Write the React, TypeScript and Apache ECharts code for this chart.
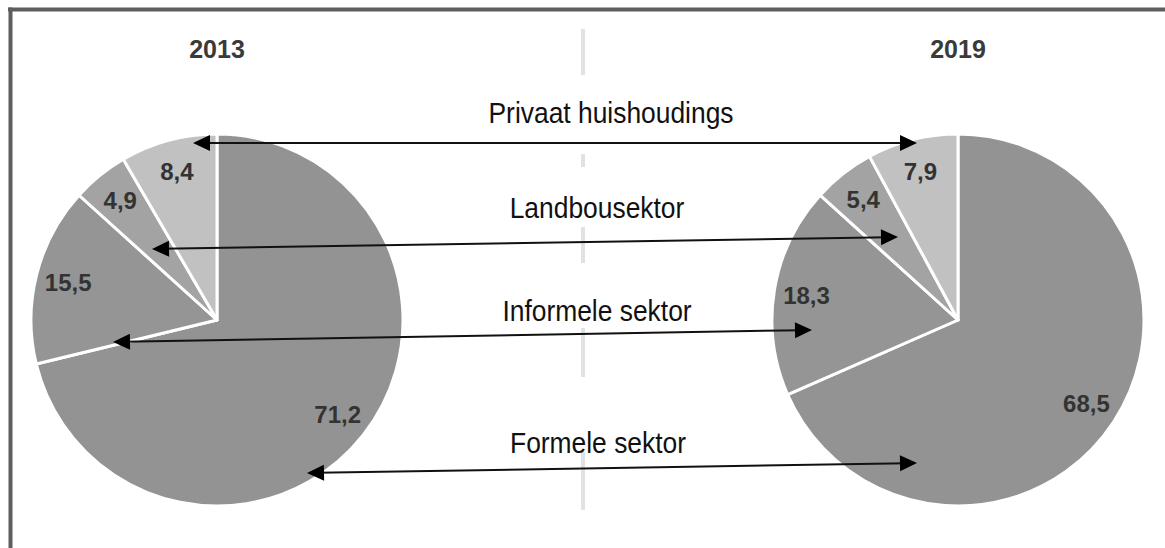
import React, { useEffect, useRef } from 'react';
import * as echarts from 'echarts';

const years = ['2013', '2019'];
const sectors = ['Formele sektor', 'Informele sektor', 'Landbousektor', 'Privaat huishoudings'];
const values2013 = [71.2, 15.5, 4.9, 8.4];
const values2019 = [68.5, 18.3, 5.4, 7.9];
const sectorColors = ['#939393', '#959595', '#a3a3a3', '#c1c1c1'];
const arrowLabels = ['Privaat huishoudings', 'Landbousektor', 'Informele sektor', 'Formele sektor'];

const FONT = "'Liberation Sans', Arial, sans-serif";

function doubleArrow(x1: number, y1: number, x2: number, y2: number) {
  const dx = x2 - x1;
  const dy = y2 - y1;
  const len = Math.sqrt(dx * dx + dy * dy);
  const ux = dx / len;
  const uy = dy / len;
  const px = -uy;
  const py = ux;
  const L = 17;
  const W = 8;
  const head = (tx: number, ty: number, dir: number) => {
    const bx = tx - dir * ux * L;
    const by = ty - dir * uy * L;
    return {
      type: 'polygon',
      z: 20,
      shape: { points: [[tx, ty], [bx + px * W, by + py * W], [bx - px * W, by - py * W]] },
      style: { fill: '#000' },
    };
  };
  return [
    {
      type: 'line',
      z: 20,
      shape: { x1: x1 + ux * 10, y1: y1 + uy * 10, x2: x2 - ux * 10, y2: y2 - uy * 10 },
      style: { stroke: '#111', lineWidth: 2 },
    },
    head(x1, y1, -1),
    head(x2, y2, 1),
  ];
}

export default function App() {
  const ref = useRef<HTMLDivElement>(null);
  useEffect(() => {
    if (!ref.current) return;
    const chart = echarts.init(ref.current, undefined, { renderer: 'svg' });
    const fmt = (p: any) => String(p.value).replace('.', ',');
    const makePie = (name: string, values: number[], center: number[]) => [
      {
        type: 'pie',
        name,
        center,
        radius: [0, 186],
        startAngle: 90,
        clockwise: true,
        silent: true,
        z: 2,
        emphasis: { disabled: true },
        itemStyle: { borderColor: '#ffffff', borderWidth: 3 },
        label: { show: false },
        labelLine: { show: false },
        data: sectors.map((s, i) => ({ name: s, value: values[i], itemStyle: { color: sectorColors[i] } })),
      },
      {
        type: 'pie',
        name: name + ' labels',
        center,
        radius: [115, 186],
        startAngle: 90,
        clockwise: true,
        silent: true,
        z: 3,
        emphasis: { disabled: true },
        itemStyle: { color: 'rgba(0,0,0,0)', borderWidth: 0 },
        label: {
          show: true,
          position: 'inside',
          formatter: fmt,
          fontFamily: FONT,
          fontWeight: 'bold',
          fontSize: 24,
          color: '#333333',
        },
        labelLine: { show: false },
        data: sectors.map((s, i) => ({ name: s, value: values[i] })),
      },
    ];

    const arrows: number[][] = [
      [193, 143, 917, 143],
      [152, 249, 898, 237],
      [113, 342, 812, 330],
      [307, 473, 917, 463],
    ];
    const labelPos: number[][] = [
      [611, 112],
      [597, 207],
      [597, 310],
      [598, 442],
    ];
    const sepSegments: number[][] = [
      [29, 75],
      [154, 167],
      [227, 263],
      [328, 377],
      [452, 510],
    ];

    const graphic: any[] = [];
    graphic.push({ type: 'line', z: 20, shape: { x1: 8, y1: 9.5, x2: 1165, y2: 9.5 }, style: { stroke: '#5e5e5e', lineWidth: 4 } });
    graphic.push({ type: 'line', z: 20, shape: { x1: 10.5, y1: 7.5, x2: 10.5, y2: 548 }, style: { stroke: '#5e5e5e', lineWidth: 4 } });
    sepSegments.forEach((s) => {
      graphic.push({ type: 'line', z: 1, shape: { x1: 583, y1: s[0], x2: 583, y2: s[1] }, style: { stroke: '#e2e2e2', lineWidth: 4 } });
    });
    [217, 958].forEach((x, i) => {
      graphic.push({
        type: 'text',
        z: 20,
        x,
        y: 49,
        style: {
          text: years[i],
          fontFamily: FONT,
          fontWeight: 'bold',
          fontSize: 25,
          fill: '#3a3a3a',
          textAlign: 'center',
          textVerticalAlign: 'middle',
        },
      });
    });
    arrows.forEach((a) => {
      doubleArrow(a[0], a[1], a[2], a[3]).forEach((g) => graphic.push(g));
    });
    arrowLabels.forEach((t, i) => {
      graphic.push({
        type: 'text',
        z: 20,
        x: labelPos[i][0],
        y: labelPos[i][1],
        scaleX: 0.88,
        style: {
          text: t,
          fontFamily: FONT,
          fontSize: 30,
          fill: '#111111',
          textAlign: 'center',
          textVerticalAlign: 'middle',
        },
      });
    });

    chart.setOption({
      animation: false,
      backgroundColor: '#ffffff',
      series: [...makePie(years[0], values2013, [217, 320]), ...makePie(years[1], values2019, [958, 320])],
      graphic,
    });
    return () => chart.dispose();
  }, []);
  return <div ref={ref} style={{ position: 'fixed', left: 0, top: 0, width: 1165, height: 548 }} />;
}
